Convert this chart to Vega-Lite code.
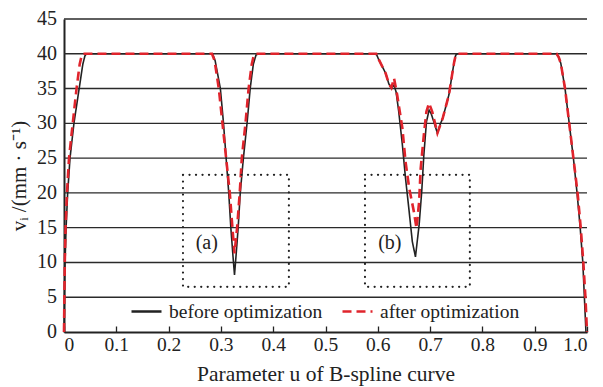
{
  "$schema": "https://vega.github.io/schema/vega-lite/v6.json",
  "width": 523,
  "height": 313,
  "autosize": {"type": "none"},
  "padding": {"left": 64, "top": 19, "right": 16, "bottom": 55},
  "background": "white",
  "config": {
    "font": "Liberation Serif",
    "view": {"stroke": null},
    "axis": {"labelFont": "Liberation Serif", "titleFont": "Liberation Serif", "labelColor": "#222", "titleColor": "#222", "titleFontWeight": "normal"},
    "legend": {"labelFont": "Liberation Serif"}
  },
  "datasets": {
    "speed": [
      {"u": 0, "v": 0, "series": "before optimization"},
      {"u": 0.001, "v": 6, "series": "before optimization"},
      {"u": 0.002, "v": 10, "series": "before optimization"},
      {"u": 0.004, "v": 15, "series": "before optimization"},
      {"u": 0.007, "v": 20, "series": "before optimization"},
      {"u": 0.0115, "v": 25, "series": "before optimization"},
      {"u": 0.019, "v": 30, "series": "before optimization"},
      {"u": 0.029, "v": 35, "series": "before optimization"},
      {"u": 0.036, "v": 38.5, "series": "before optimization"},
      {"u": 0.04, "v": 39.7, "series": "before optimization"},
      {"u": 0.043, "v": 40, "series": "before optimization"},
      {"u": 0.284, "v": 40, "series": "before optimization"},
      {"u": 0.289, "v": 39, "series": "before optimization"},
      {"u": 0.294, "v": 37, "series": "before optimization"},
      {"u": 0.299, "v": 35, "series": "before optimization"},
      {"u": 0.305, "v": 30, "series": "before optimization"},
      {"u": 0.31, "v": 25, "series": "before optimization"},
      {"u": 0.315, "v": 20, "series": "before optimization"},
      {"u": 0.319, "v": 15, "series": "before optimization"},
      {"u": 0.323, "v": 11, "series": "before optimization"},
      {"u": 0.326, "v": 8.2, "series": "before optimization"},
      {"u": 0.329, "v": 11, "series": "before optimization"},
      {"u": 0.333, "v": 15, "series": "before optimization"},
      {"u": 0.337, "v": 20, "series": "before optimization"},
      {"u": 0.343, "v": 25, "series": "before optimization"},
      {"u": 0.35, "v": 30, "series": "before optimization"},
      {"u": 0.356, "v": 35, "series": "before optimization"},
      {"u": 0.362, "v": 38.5, "series": "before optimization"},
      {"u": 0.367, "v": 39.8, "series": "before optimization"},
      {"u": 0.372, "v": 40, "series": "before optimization"},
      {"u": 0.597, "v": 40, "series": "before optimization"},
      {"u": 0.601, "v": 39.3, "series": "before optimization"},
      {"u": 0.607, "v": 38.4, "series": "before optimization"},
      {"u": 0.615, "v": 37.2, "series": "before optimization"},
      {"u": 0.621, "v": 35.7, "series": "before optimization"},
      {"u": 0.626, "v": 35.1, "series": "before optimization"},
      {"u": 0.631, "v": 35.5, "series": "before optimization"},
      {"u": 0.635, "v": 34.5, "series": "before optimization"},
      {"u": 0.64, "v": 31.7, "series": "before optimization"},
      {"u": 0.647, "v": 26.9, "series": "before optimization"},
      {"u": 0.653, "v": 22.1, "series": "before optimization"},
      {"u": 0.66, "v": 17.3, "series": "before optimization"},
      {"u": 0.666, "v": 13, "series": "before optimization"},
      {"u": 0.672, "v": 10.8, "series": "before optimization"},
      {"u": 0.679, "v": 15.4, "series": "before optimization"},
      {"u": 0.684, "v": 20.2, "series": "before optimization"},
      {"u": 0.688, "v": 25.4, "series": "before optimization"},
      {"u": 0.693, "v": 30.2, "series": "before optimization"},
      {"u": 0.698, "v": 31.9, "series": "before optimization"},
      {"u": 0.702, "v": 31.4, "series": "before optimization"},
      {"u": 0.708, "v": 30, "series": "before optimization"},
      {"u": 0.714, "v": 28.6, "series": "before optimization"},
      {"u": 0.719, "v": 29.8, "series": "before optimization"},
      {"u": 0.724, "v": 30.7, "series": "before optimization"},
      {"u": 0.73, "v": 32.4, "series": "before optimization"},
      {"u": 0.736, "v": 34.1, "series": "before optimization"},
      {"u": 0.741, "v": 36.5, "series": "before optimization"},
      {"u": 0.746, "v": 38.8, "series": "before optimization"},
      {"u": 0.749, "v": 39.8, "series": "before optimization"},
      {"u": 0.752, "v": 40, "series": "before optimization"},
      {"u": 0.942, "v": 40, "series": "before optimization"},
      {"u": 0.946, "v": 39.5, "series": "before optimization"},
      {"u": 0.95, "v": 38.6, "series": "before optimization"},
      {"u": 0.958, "v": 35, "series": "before optimization"},
      {"u": 0.966, "v": 30, "series": "before optimization"},
      {"u": 0.974, "v": 25, "series": "before optimization"},
      {"u": 0.981, "v": 20, "series": "before optimization"},
      {"u": 0.987, "v": 15, "series": "before optimization"},
      {"u": 0.992, "v": 10, "series": "before optimization"},
      {"u": 0.995, "v": 5, "series": "before optimization"},
      {"u": 0.998, "v": 0, "series": "before optimization"},

      {"u": 0, "v": 0, "series": "after optimization"},
      {"u": 0.0015, "v": 10, "series": "after optimization"},
      {"u": 0.003, "v": 15, "series": "after optimization"},
      {"u": 0.0057, "v": 20, "series": "after optimization"},
      {"u": 0.0096, "v": 25, "series": "after optimization"},
      {"u": 0.0167, "v": 30, "series": "after optimization"},
      {"u": 0.024, "v": 35, "series": "after optimization"},
      {"u": 0.03, "v": 38.5, "series": "after optimization"},
      {"u": 0.034, "v": 39.8, "series": "after optimization"},
      {"u": 0.037, "v": 40, "series": "after optimization"},
      {"u": 0.283, "v": 40, "series": "after optimization"},
      {"u": 0.288, "v": 39, "series": "after optimization"},
      {"u": 0.292, "v": 37, "series": "after optimization"},
      {"u": 0.296, "v": 35, "series": "after optimization"},
      {"u": 0.303, "v": 30, "series": "after optimization"},
      {"u": 0.31, "v": 25, "series": "after optimization"},
      {"u": 0.317, "v": 20, "series": "after optimization"},
      {"u": 0.322, "v": 15, "series": "after optimization"},
      {"u": 0.326, "v": 11.3, "series": "after optimization"},
      {"u": 0.331, "v": 15, "series": "after optimization"},
      {"u": 0.336, "v": 20, "series": "after optimization"},
      {"u": 0.34, "v": 25, "series": "after optimization"},
      {"u": 0.347, "v": 30, "series": "after optimization"},
      {"u": 0.353, "v": 35, "series": "after optimization"},
      {"u": 0.359, "v": 38.5, "series": "after optimization"},
      {"u": 0.363, "v": 39.8, "series": "after optimization"},
      {"u": 0.367, "v": 40, "series": "after optimization"},
      {"u": 0.597, "v": 40, "series": "after optimization"},
      {"u": 0.601, "v": 39.3, "series": "after optimization"},
      {"u": 0.607, "v": 38.4, "series": "after optimization"},
      {"u": 0.615, "v": 37.2, "series": "after optimization"},
      {"u": 0.621, "v": 35.7, "series": "after optimization"},
      {"u": 0.626, "v": 35.1, "series": "after optimization"},
      {"u": 0.631, "v": 36.5, "series": "after optimization"},
      {"u": 0.637, "v": 34.1, "series": "after optimization"},
      {"u": 0.647, "v": 29.3, "series": "after optimization"},
      {"u": 0.653, "v": 24.5, "series": "after optimization"},
      {"u": 0.66, "v": 20.7, "series": "after optimization"},
      {"u": 0.669, "v": 17.3, "series": "after optimization"},
      {"u": 0.674, "v": 14.9, "series": "after optimization"},
      {"u": 0.679, "v": 18.7, "series": "after optimization"},
      {"u": 0.682, "v": 23.5, "series": "after optimization"},
      {"u": 0.688, "v": 28.3, "series": "after optimization"},
      {"u": 0.693, "v": 31.7, "series": "after optimization"},
      {"u": 0.698, "v": 32.9, "series": "after optimization"},
      {"u": 0.704, "v": 31.7, "series": "after optimization"},
      {"u": 0.714, "v": 28.6, "series": "after optimization"},
      {"u": 0.724, "v": 30.7, "series": "after optimization"},
      {"u": 0.73, "v": 32.4, "series": "after optimization"},
      {"u": 0.736, "v": 34.1, "series": "after optimization"},
      {"u": 0.741, "v": 36.5, "series": "after optimization"},
      {"u": 0.746, "v": 38.8, "series": "after optimization"},
      {"u": 0.749, "v": 39.8, "series": "after optimization"},
      {"u": 0.752, "v": 40, "series": "after optimization"},
      {"u": 0.942, "v": 40, "series": "after optimization"},
      {"u": 0.946, "v": 39.5, "series": "after optimization"},
      {"u": 0.95, "v": 38.6, "series": "after optimization"},
      {"u": 0.958, "v": 35, "series": "after optimization"},
      {"u": 0.966, "v": 30, "series": "after optimization"},
      {"u": 0.974, "v": 25, "series": "after optimization"},
      {"u": 0.982, "v": 20, "series": "after optimization"},
      {"u": 0.988, "v": 15, "series": "after optimization"},
      {"u": 0.993, "v": 10, "series": "after optimization"},
      {"u": 0.997, "v": 5, "series": "after optimization"},
      {"u": 1.0, "v": 0, "series": "after optimization"}
    ],
    "boxes": [
      {"u0": 0.2275, "u1": 0.43, "v0": 6.5, "v1": 22.6, "label": "(a)", "ul": 0.273, "vl": 12.8},
      {"u0": 0.5755, "u1": 0.776, "v0": 6.5, "v1": 22.6, "label": "(b)", "ul": 0.623, "vl": 12.8}
    ],
    "levels": [
      {"v": 0}, {"v": 5}, {"v": 10}, {"v": 15}, {"v": 20}, {"v": 25},
      {"v": 30}, {"v": 35}, {"v": 40}, {"v": 45}
    ]
  },
  "layer": [
    {
      "data": {"name": "levels"},
      "transform": [{"filter": "datum.v > 0"}],
      "mark": {"type": "rule", "color": "#2a2a2a", "strokeWidth": 1.4},
      "encoding": {
        "y": {"field": "v", "type": "quantitative", "scale": {"domain": [0, 45], "nice": false},
          "axis": {
            "labels": false,
            "grid": false,
            "ticks": false,
            "domainColor": "#222", "domainWidth": 2,
            "title": "vᵢ /(mm · s⁻¹)", "titleFontSize": 21, "titlePadding": 35
          }}
      }
    },
    {
      "data": {"name": "levels"},
      "mark": {"type": "text", "align": "right", "baseline": "middle", "dx": -7, "fontSize": 20, "color": "#222"},
      "encoding": {
        "x": {"datum": 0, "type": "quantitative"},
        "y": {"field": "v", "type": "quantitative"},
        "text": {"field": "v", "type": "quantitative"}
      }
    },
    {
      "data": {"name": "speed"},
      "transform": [{"filter": "datum.series == 'before optimization'"}],
      "mark": {"type": "line", "strokeWidth": 1.6},
      "encoding": {
        "x": {"field": "u", "type": "quantitative", "scale": {"domain": [0, 1], "nice": false},
          "axis": {
            "values": [0, 0.1, 0.2, 0.3, 0.4, 0.5, 0.6, 0.7, 0.8, 0.9, 1.0],
            "labelExpr": "datum.value == 0 ? '0' : format(datum.value, '.1f')",
            "grid": false,
            "domainColor": "#222", "domainWidth": 2,
            "tickColor": "#222", "tickWidth": 1.3, "tickSize": -6,
            "labelFontSize": 19.5, "labelPadding": 9,
            "title": "Parameter u of B-spline curve", "titleFontSize": 21.5, "titlePadding": 10
          }},
        "y": {"field": "v", "type": "quantitative"},
        "color": {"field": "series", "type": "nominal",
          "scale": {"domain": ["before optimization", "after optimization"], "range": ["#222222", "#e0242c"]},
          "legend": {
            "title": null, "orient": "none", "direction": "horizontal",
            "legendX": 66, "legendY": 276,
            "symbolType": "stroke", "symbolSize": 900, "symbolStrokeWidth": 2.4,
            "labelFontSize": 19.5, "labelColor": "#222",
            "columnPadding": 14, "labelOffset": 6
          }},
        "strokeDash": {"field": "series", "type": "nominal",
          "scale": {"domain": ["before optimization", "after optimization"], "range": [[1, 0], [9, 5]]},
          "legend": {
            "title": null, "orient": "none", "direction": "horizontal",
            "legendX": 66, "legendY": 276,
            "symbolType": "stroke", "symbolSize": 900, "symbolStrokeWidth": 2.4,
            "labelFontSize": 19.5, "labelColor": "#222",
            "columnPadding": 14, "labelOffset": 6
          }}
      }
    },
    {
      "data": {"name": "speed"},
      "transform": [{"filter": "datum.series == 'after optimization'"}],
      "mark": {"type": "line", "strokeWidth": 2.6},
      "encoding": {
        "x": {"field": "u", "type": "quantitative"},
        "y": {"field": "v", "type": "quantitative"},
        "color": {"field": "series", "type": "nominal"},
        "strokeDash": {"field": "series", "type": "nominal"}
      }
    },
    {
      "data": {"name": "boxes"},
      "mark": {"type": "rect", "fill": null, "stroke": "#222", "strokeWidth": 2.2, "strokeDash": [0.1, 6.4], "strokeCap": "round"},
      "encoding": {
        "x": {"field": "u0", "type": "quantitative"},
        "x2": {"field": "u1"},
        "y": {"field": "v0", "type": "quantitative"},
        "y2": {"field": "v1"}
      }
    },
    {
      "data": {"name": "boxes"},
      "mark": {"type": "text", "fontSize": 20, "color": "#222"},
      "encoding": {
        "x": {"field": "ul", "type": "quantitative"},
        "y": {"field": "vl", "type": "quantitative"},
        "text": {"field": "label"}
      }
    }
  ]
}
